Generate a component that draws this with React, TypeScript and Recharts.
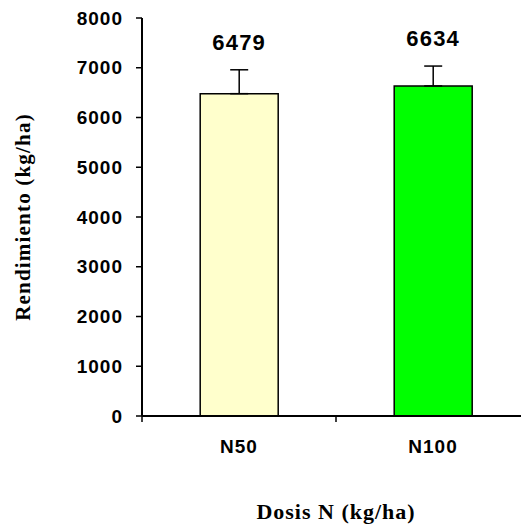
import React from 'react';
import { BarChart, Bar, XAxis, YAxis, ErrorBar, LabelList, Cell } from 'recharts';

const categories = ['N50', 'N100'];
const yields = [6479, 6634];
const errorsUp = [480, 400];
const barColors = ['#FFFFCC', '#00FF00'];
const yTicks = [0, 1000, 2000, 3000, 4000, 5000, 6000, 7000, 8000];

const data = categories.map((c, i) => ({ name: c, value: yields[i], err: [0, errorsUp[i]] }));

const sansBold = { fontFamily: 'Arial, "Liberation Sans", sans-serif', fontWeight: 700 };
const serifBold = { fontFamily: '"Times New Roman", "Liberation Serif", serif', fontWeight: 700 };

const XTick = (props: any) => {
  const { x, y, payload, index } = props;
  const off = payload && payload.offset != null ? payload.offset : 0;
  return (
    <g>
      <line x1={x - off} y1={y} x2={x - off} y2={y + 6} stroke="#000" strokeWidth={1.5} />
      {index === categories.length - 1 && (
        <line x1={x + off} y1={y} x2={x + off} y2={y + 6} stroke="#000" strokeWidth={1.5} />
      )}
      <text x={x} y={y + 37} textAnchor="middle" fontSize={19} fill="#000" style={{ ...sansBold, letterSpacing: '1px' }}>
        {payload.value}
      </text>
    </g>
  );
};

const ValueLabel = (props: any) => {
  const { x, y, width, height, value, index } = props;
  const errPx = (errorsUp[index] * height) / value;
  const cx = x + width / 2;
  const topY = y - errPx;
  return (
    <text x={cx} y={topY - 20} textAnchor="middle" fontSize={22} fill="#000" style={{ ...sansBold, letterSpacing: '1.2px' }}>
      {value}
    </text>
  );
};

export default function App() {
  return (
    <div style={{ position: 'absolute', left: 0, top: 0, width: 521, height: 526, overflow: 'hidden', background: '#fff' }}>
      <BarChart
        width={540}
        height={526}
        data={data}
        margin={{ top: 18, right: 10, left: 0, bottom: 0 }}
        barCategoryGap="30%"
      >
        <YAxis
          width={142}
          domain={[0, 8000]}
          ticks={yTicks}
          interval={0}
          tickSize={6}
          tickMargin={13}
          axisLine={{ stroke: '#000', strokeWidth: 2 }}
          tickLine={{ stroke: '#000', strokeWidth: 1.5 }}
          tick={{ fontSize: 19, fill: '#000', ...sansBold, letterSpacing: '1px' } as any}
          label={{
            value: 'Rendimiento (kg/ha)',
            angle: -90,
            position: 'insideLeft',
            offset: 23,
            style: { ...serifBold, fontSize: 21, fill: '#000', textAnchor: 'middle', letterSpacing: '1.2px' },
          }}
        />
        <XAxis
          dataKey="name"
          height={110}
          tickSize={0}
          tickMargin={0}
          interval={0}
          axisLine={{ stroke: '#000', strokeWidth: 2 }}
          tickLine={false}
          tick={<XTick />}
          label={{
            value: 'Dosis N (kg/ha)',
            position: 'insideBottom',
            offset: 7,
            style: { ...serifBold, fontSize: 22, fill: '#000', letterSpacing: '1px' },
          }}
        />
        <Bar dataKey="value" stroke="#000" strokeWidth={1.5} isAnimationActive={false}>
          {data.map((d, i) => (
            <Cell key={d.name} fill={barColors[i]} />
          ))}
          <ErrorBar dataKey="err" width={9} stroke="#000" strokeWidth={1.5} direction="y" isAnimationActive={false} />
          <LabelList dataKey="value" content={<ValueLabel />} />
        </Bar>
      </BarChart>
    </div>
  );
}
